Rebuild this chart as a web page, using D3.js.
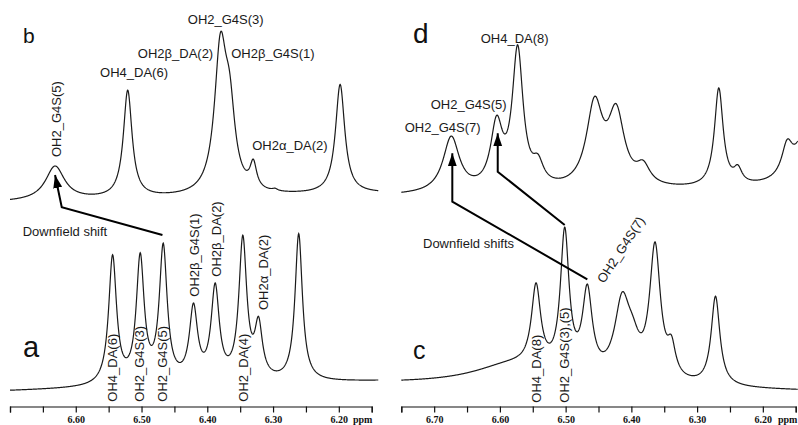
<!DOCTYPE html>
<html>
<head>
<meta charset="utf-8">
<script src="https://cdnjs.cloudflare.com/ajax/libs/d3/7.8.5/d3.min.js"></script>
<style>
  body { margin: 0; background: #fff; }
  svg { display: block; }
</style>
</head>
<body>
<svg width="798" height="425"></svg>
<script>
// ---- axis ticks (ppm) ----
var leftTicks = [6.70, 6.65, 6.60, 6.55, 6.50, 6.45, 6.40, 6.35, 6.30, 6.25, 6.20, 6.15];
var rightTicks = [6.75, 6.70, 6.65, 6.60, 6.55, 6.50, 6.45, 6.40, 6.35, 6.30, 6.25, 6.20, 6.15];
var leftTickLabels = ["6.60", "6.50", "6.40", "6.30", "6.20"];
var rightTickLabels = ["6.70", "6.60", "6.50", "6.40", "6.30", "6.20"];

// ---- spectrum a (left, bottom) : peak position, height, width ----
var aPpm    = [6.544, 6.502, 6.467, 6.421, 6.388, 6.346, 6.322, 6.261];
var aHeight = [128, 124, 134, 72, 92, 140, 52, 147];
var aWidth  = [0.0145, 0.0145, 0.0145, 0.015, 0.015, 0.0145, 0.014, 0.0135];
var aBase   = [1, 11];

// ---- spectrum b (left, top) ----
var bPpm    = [6.6315, 6.521, 6.380, 6.366, 6.330, 6.297, 6.198];
var bHeight = [34, 107, 140, 70, 25, 2, 109];
var bWidth  = [0.035, 0.016, 0.022, 0.02, 0.012, 0.01, 0.017];
var bBase   = [190, 198.5];

// ---- spectrum c (right, bottom) ----
var cPpm    = [6.58, 6.545, 6.5014, 6.467, 6.414, 6.398, 6.364, 6.339, 6.272];
var cHeight = [20, 80, 139, 82, 74, 24, 132, 28, 89];
var cWidth  = [0.15, 0.017, 0.016, 0.018, 0.028, 0.025, 0.02, 0.015, 0.016];
var cBase   = [8, 1];

// ---- spectrum d (right, top) ----
var dPpm    = [6.674, 6.605, 6.573, 6.542, 6.456, 6.423, 6.382, 6.267, 6.238, 6.163, 6.125];
var dHeight = [55, 62, 137, 20, 81, 71, 18, 98, 14, 30, 85];
var dWidth  = [0.03, 0.022, 0.02, 0.02, 0.03, 0.03, 0.025, 0.016, 0.015, 0.02, 0.04];
var dBase   = [196.3, 203];

// ---- annotations (ppm, intensity) ----
var leftArrows  = [[[6.4682, 157], [6.6213, 184.7], [6.6315, 217]]];
var rightArrows = [[[6.467, 112.7], [6.6724, 190.3], [6.6724, 238.7]],
                   [[6.5014, 167], [6.6033, 220.3], [6.6033, 258.7]]];

// text, ppm, intensity, angle, anchor
var leftLabels = [
    ["OH2_G4S(3)", 6.372, 368, 0, "middle"],
    ["OH2\u03b2_DA(2)", 6.391, 333.7, 0, "end"],
    ["OH2\u03b2_G4S(1)", 6.3636, 333.7, 0, "start"],
    ["OH4_DA(6)", 6.563, 315.3, 0, "start"],
    ["OH2\u03b1_DA(2)", 6.3317, 242, 0, "start"],
    ["OH2_G4S(5)", 6.6224, 235, -90, "start"],
    ["OH4_DA(6)", 6.5367, -9.7, -90, "start"],
    ["OH2_G4S(3)", 6.4956, -9.7, -90, "start"],
    ["OH2_G4S(5)", 6.4606, -9.7, -90, "start"],
    ["OH2_DA(4)", 6.3388, -9.7, -90, "start"],
    ["OH2\u03b2_G4S(1)", 6.4119, 95.3, -90, "start"],
    ["OH2\u03b2_DA(2)", 6.3784, 115.3, -90, "start"],
    ["OH2\u03b1_DA(2)", 6.3084, 82, -90, "start"],
    ["Downfield shift", 6.6807, 156, 0, "start"]
];
var rightLabels = [
    ["OH4_DA(8)", 6.6292, 348.7, 0, "start"],
    ["OH2_G4S(5)", 6.7053, 283, 0, "start"],
    ["OH2_G4S(7)", 6.7448, 260.3, 0, "start"],
    ["OH4_DA(8)", 6.5371, -10.7, -90, "start"],
    ["OH2_G4S(3),(5)", 6.4949, -10.7, -90, "start"],
    ["OH2_G4S(7)", 6.4416, 108, -57, "start"],
    ["Downfield shifts", 6.717, 143.7, 0, "start"]
];
// letter, ppm, intensity, size
var leftLetters  = [["b", 6.6802, 349, 21], ["a", 6.6802, 35, 29]];
var rightLetters = [["d", 6.7322, 348.7, 28], ["c", 6.7322, 33, 25]];

var svg = d3.select("svg");

svg.append("defs").append("marker")
    .attr("id", "head")
    .attr("markerUnits", "userSpaceOnUse")
    .attr("markerWidth", 14).attr("markerHeight", 10)
    .attr("refX", 13).attr("refY", 4.5)
    .attr("orient", "auto")
    .append("path")
    .attr("d", "M0,0L13,4.5L0,9Z")
    .attr("fill", "#000");

var y = d3.scaleLinear().domain([0, 392]).range([392, 0]);

function spectrum(ppm, height, width, base, dom) {
    var step = 0.0005;
    var pts = d3.range(dom[0], dom[1] - step / 2, -step);
    pts.push(dom[1]);
    return pts.map(function(p) {
        var v = base[0] + (base[1] - base[0]) * (dom[0] - p) / (dom[0] - dom[1]);
        for (var i = 0; i < ppm.length; i++) {
            var g = (p - ppm[i]) / (width[i] / 2);
            v += height[i] / (1 + g * g);
        }
        return [p, v];
    });
}

function drawPanel(x, ticks, tickLabels, drawDom, specs, arrows, labels, letters, ppmX) {
    var g = svg.append("g");

    var line = d3.line()
        .x(function(d) { return x(d[0]); })
        .y(function(d) { return y(d[1]); });

    specs.forEach(function(s) {
        g.append("path")
            .attr("d", line(spectrum(s[0], s[1], s[2], s[3], drawDom)))
            .attr("fill", "none")
            .attr("stroke", "#1a1a1a")
            .attr("stroke-width", 1.2);
    });

    arrows.forEach(function(a) {
        g.append("path")
            .attr("d", line(a))
            .attr("fill", "none")
            .attr("stroke", "#000")
            .attr("stroke-width", 2)
            .attr("marker-end", "url(#head)");
    });

    labels.forEach(function(l) {
        var px = x(l[1]), py = y(l[2]);
        g.append("text")
            .attr("transform", "translate(" + px + "," + py + ") rotate(" + l[3] + ")")
            .attr("text-anchor", l[4])
            .style("font-family", "'Liberation Sans', Arial, sans-serif")
            .style("font-size", "13px")
            .attr("fill", "#1a1a1a")
            .text(l[0]);
    });

    letters.forEach(function(l) {
        g.append("text")
            .attr("x", x(l[1])).attr("y", y(l[2]))
            .style("font-family", "'Liberation Sans', Arial, sans-serif")
            .style("font-size", l[3] + "px")
            .attr("fill", "#111")
            .text(l[0]);
    });

    var axis = d3.axisBottom(x)
        .tickValues(ticks)
        .tickSize(6)
        .tickSizeOuter(6)
        .tickFormat(function(d) {
            var s = d.toFixed(2);
            return tickLabels.indexOf(s) >= 0 ? s : "";
        });

    var ax = g.append("g")
        .attr("transform", "translate(0,406.5)")
        .call(axis);
    ax.selectAll("path, line").attr("stroke", "#111").attr("stroke-width", 1.2);
    ax.selectAll("text")
        .style("font-family", "'Liberation Serif', 'Times New Roman', serif")
        .style("font-weight", "bold")
        .style("font-size", "10px")
        .attr("fill", "#111");

    g.append("text")
        .attr("x", ppmX).attr("y", 422.6)
        .style("font-family", "'Liberation Serif', 'Times New Roman', serif")
        .style("font-weight", "bold")
        .style("font-size", "10px")
        .attr("fill", "#111")
        .text("ppm");
}

var xLeft = d3.scaleLinear().domain([6.70, 6.15]).range([10, 371.7]);
var xRight = d3.scaleLinear().domain([6.75, 6.15]).range([401.3, 795.7]);

drawPanel(xLeft, leftTicks, leftTickLabels, [6.70, 6.14],
    [[aPpm, aHeight, aWidth, aBase], [bPpm, bHeight, bWidth, bBase]],
    leftArrows, leftLabels, leftLetters, 353);

drawPanel(xRight, rightTicks, rightTickLabels, [6.75, 6.147],
    [[cPpm, cHeight, cWidth, cBase], [dPpm, dHeight, dWidth, dBase]],
    rightArrows, rightLabels, rightLetters, 778);
</script>
</body>
</html>
